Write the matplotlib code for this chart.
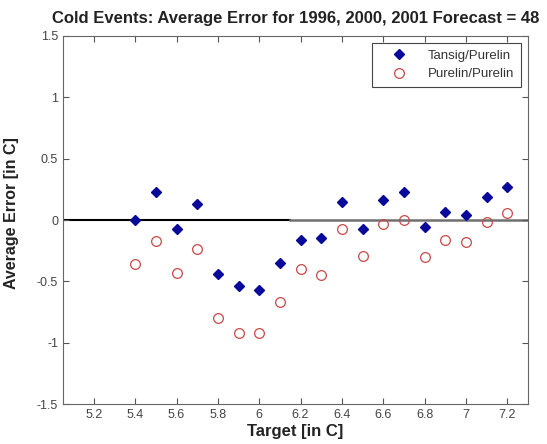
import matplotlib
matplotlib.use("Agg")
import matplotlib.pyplot as plt

plt.rcParams['font.family'] = ['Liberation Sans', 'DejaVu Sans']

target = [5.4, 5.5, 5.6, 5.7, 5.8, 5.9, 6.0, 6.1, 6.2, 6.3,
          6.4, 6.5, 6.6, 6.7, 6.8, 6.9, 7.0, 7.1, 7.2]
tansig = [0.0, 0.23, -0.07, 0.13, -0.44, -0.54, -0.57, -0.35, -0.16, -0.15,
          0.15, -0.07, 0.16, 0.23, -0.06, 0.065, 0.04, 0.19, 0.27]
purelin = [-0.36, -0.17, -0.43, -0.24, -0.80, -0.92, -0.92, -0.665, -0.40, -0.445,
           -0.076, -0.29, -0.03, 0.0, -0.30, -0.16, -0.18, -0.015, 0.06]
xticks = [5.2, 5.4, 5.6, 5.8, 6.0, 6.2, 6.4, 6.6, 6.8, 7.0, 7.2]
xticklabels = ['5.2', '5.4', '5.6', '5.8', '6', '6.2', '6.4', '6.6', '6.8', '7', '7.2']
yticks = [-1.5, -1, -0.5, 0, 0.5, 1, 1.5]
yticklabels = ['-1.5', '-1', '-0.5', '0', '0.5', '1', '1.5']

fig = plt.figure(figsize=(5.47, 4.44), dpi=100)
ax = fig.add_axes([0.115, 0.09, 0.85, 0.829])

# zero reference line, black then grey part
ax.plot([5.05, 6.15], [0, 0], color='black', lw=1.5, zorder=1)
ax.plot([6.15, 7.3], [0, 0], color='#707070', lw=1.8, zorder=1)

ax.plot(target, tansig, 'D', color='#0a0a9a', ms=5, label='Tansig/Purelin', zorder=3)
ax.plot(target, purelin, 'o', mfc='none', mec='#c84848', mew=0.9, ms=7,
        label='Purelin/Purelin', zorder=2)

ax.set_xlim(5.05, 7.3)
ax.set_ylim(-1.5, 1.5)
ax.set_xticks(xticks)
ax.set_xticklabels(xticklabels)
ax.set_yticks(yticks)
ax.set_yticklabels(yticklabels)
ax.tick_params(direction='in', top=True, right=True, length=4,
               labelsize=9, colors='#555555', labelcolor='#444444')
for s in ax.spines.values():
    s.set_color('#666666')

ax.set_title('Cold Events: Average Error for 1996, 2000, 2001 Forecast = 48',
             fontsize=12, fontweight='bold', color='#222222', pad=9)
ax.set_xlabel('Target [in C]', fontsize=12, fontweight='bold', color='#222222', labelpad=2)
ax.set_ylabel('Average Error [in C]', fontsize=11.5, fontweight='bold', color='#222222')
ax.yaxis.set_label_coords(-0.095, 0.52)

leg = ax.legend(loc='upper right', fontsize=9.5, fancybox=False, edgecolor='#444444',
                framealpha=1, handlelength=3.0, handletextpad=0.7, borderaxespad=0.55,
                borderpad=0.5, labelspacing=0.45)
leg.get_frame().set_linewidth(0.8)
for t in leg.get_texts():
    t.set_color('#333333')

fig.savefig('out.png', dpi=100)
